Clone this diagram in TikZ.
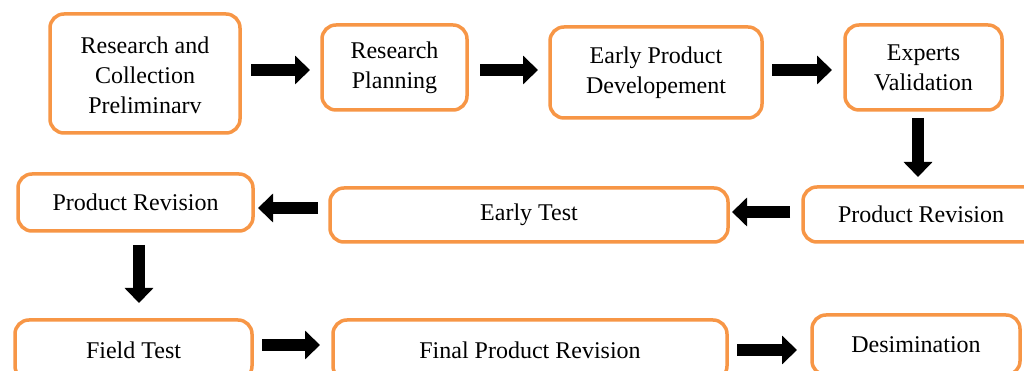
\documentclass[tikz,border=0pt]{standalone}
\usepackage{fontspec}
\setmainfont{Liberation Serif}
\usetikzlibrary{arrows.meta}
\definecolor{boxorange}{RGB}{247,150,70}
\tikzset{
  stagebox/.style={draw=boxorange, line width=3.5pt, rounded corners=14pt,
    fill=white, inner sep=0pt, outer sep=0pt, align=center,
    font=\fontsize{24pt}{30pt}\selectfont},
  blockarrow/.style={line width=12pt, -{Triangle[length=15pt,width=28pt]}}
}
\begin{document}
\begin{tikzpicture}[x=1pt,y=1pt]
\fill[white] (0,0) rectangle (1024,371);
\clip (0,0) rectangle (1024,371);

% top row
\node[stagebox, minimum width=190pt, minimum height=119pt] (b1) at (145,297.5)
  {\raisebox{-4pt}[\height][\depth]{\begin{tabular}{@{}c@{}}Research and\\Collection\\Preliminarv\end{tabular}}};
\node[stagebox, minimum width=145pt, minimum height=85pt] (b2) at (394.5,303.5)
  {Research\\Planning};
\node[stagebox, minimum width=212pt, minimum height=91pt] (b3) at (656,298.5)
  {Early Product\\Developement};
\node[stagebox, minimum width=157pt, minimum height=85pt] (b4) at (923.5,303.5)
  {Experts\\Validation};

% middle row
\node[stagebox, minimum width=236pt, minimum height=55pt] (b5) at (921,156.5)
  {Product Revision};
\node[stagebox, minimum width=398pt, minimum height=54pt] (b6) at (529,156)
  {Early Test};
\node[stagebox, minimum width=235pt, minimum height=57pt] (b7) at (135.5,168.5)
  {Product Revision};

% bottom row
\node[stagebox, minimum width=237pt, minimum height=60pt] (b8) at (133.5,21)
  {Field Test};
\node[stagebox, minimum width=394pt, minimum height=60pt] (b9) at (530,21)
  {Final Product Revision};
\node[stagebox, minimum width=208pt, minimum height=60pt] (b10) at (916,26)
  {Desimination};

% connectors
\draw[blockarrow, shorten <=11pt, shorten >=12pt] (b1.east |- 0,301) -- (b2.west |- 0,301);
\draw[blockarrow, shorten <=13pt, shorten >=12pt] (b2.east |- 0,301) -- (b3.west |- 0,301);
\draw[blockarrow, shorten <=10pt, shorten >=13pt] (b3.east |- 0,301) -- (b4.west |- 0,301);
\draw[blockarrow, shorten <=8pt, shorten >=10pt] (b4.south -| 918,0) -- (b5.north -| 918,0);
\draw[blockarrow, shorten <=13pt, shorten >=4pt] (b5.west |- 0,159) -- (b6.east |- 0,159);
\draw[blockarrow, shorten <=12pt, shorten >=5pt] (b6.west |- 0,163) -- (b7.east |- 0,163);
\draw[blockarrow, shorten <=14pt, shorten >=17pt] (b7.south -| 139,0) -- (b8.north -| 139,0);
\draw[blockarrow, shorten <=10pt, shorten >=13pt] (b8.east |- 0,26) -- (b9.west |- 0,26);
\draw[blockarrow, shorten <=10pt, shorten >=15pt] (b9.east |- 0,21) -- (b10.west |- 0,21);
\end{tikzpicture}
\end{document}
